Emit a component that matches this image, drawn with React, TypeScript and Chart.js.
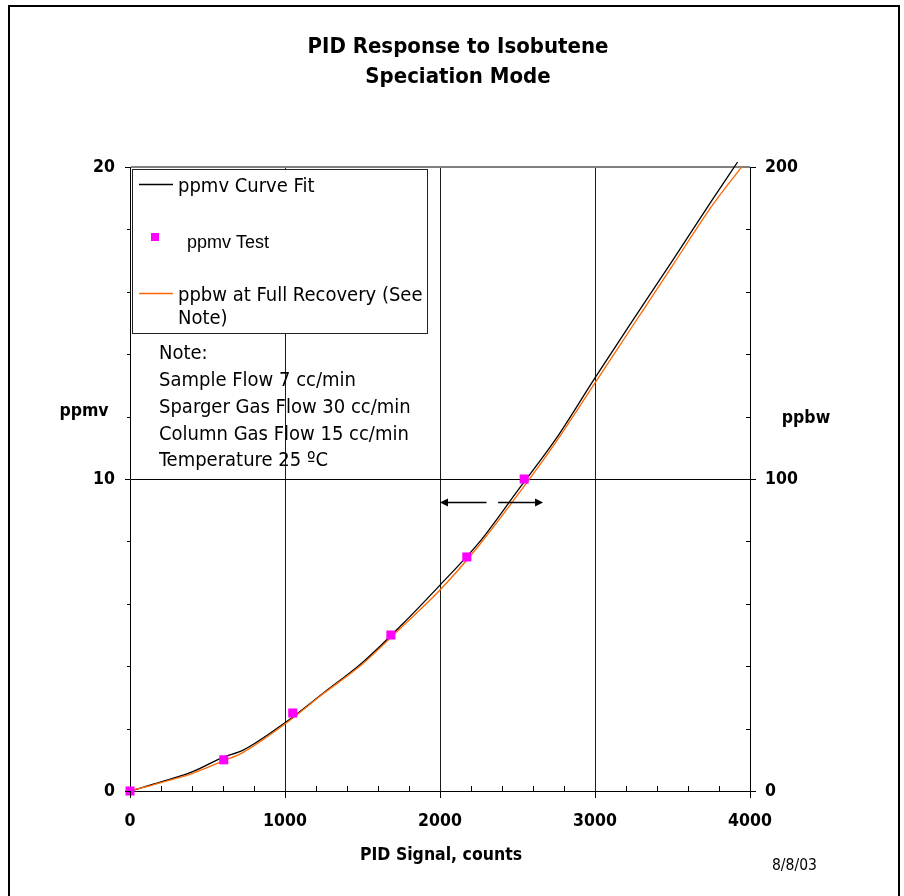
import React, { useEffect, useRef } from "react";
import { Chart, registerables } from "chart.js";

Chart.register(...registerables);

// ---------- data ----------
const titleLines = ["PID Response to Isobutene", "Speciation Mode"];
const xAxisTitle = "PID Signal, counts";
const yAxisTitle = "ppmv";
const y2AxisTitle = "ppbw";
const dateText = "8/8/03";

const xTickLabels = [0, 1000, 2000, 3000, 4000];
const yTickLabels = [0, 10, 20];
const y2TickLabels = [0, 100, 200];

// ppmv curve fit (black)
const curveX = [0, 200, 400, 600, 730, 1000, 1250, 1500, 1750, 2000, 2250, 2500, 2750, 3000, 3250, 3500, 3750, 3920];
const curvePpmv = [0, 0.29, 0.61, 1.08, 1.31, 2.19, 3.15, 4.12, 5.31, 6.6, 7.95, 9.62, 11.3, 13.24, 15.13, 17.0, 18.9, 20.16];

// ppmv test points (magenta squares)
const testX = [0, 605, 1050, 1683, 2173, 2543];
const testPpmv = [0, 1, 2.5, 5, 7.5, 10];

// ppbw at full recovery (orange, right axis)
const ppbwX = [0, 200, 400, 600, 730, 1000, 1250, 1500, 1750, 2000, 2250, 2500, 2750, 3000, 3250, 3500, 3750, 3950];
const ppbwVals = [0, 2.7, 5.6, 9.6, 12.4, 21.5, 31.3, 40.7, 52.4, 64.4, 78.6, 94.8, 112.0, 130.8, 149.6, 168.4, 187.2, 200.3];

const legendLabels = ["ppmv Curve Fit", "ppmv Test", "ppbw at Full Recovery (See", "Note)"];
const noteLines = ["Note:", "Sample Flow 7 cc/min", "Sparger Gas Flow 30 cc/min", "Column Gas Flow 15 cc/min", "Temperature 25 ºC"];

// double arrow annotation (x in counts, y in ppmv)
const arrowY = 9.26;
const arrowLeft = [2300, 2000]; // from, to (head)
const arrowRight = [2375, 2665];

// ---------- styles ----------
const COND = '"DejaVu Sans Condensed", "DejaVu Sans", sans-serif';
const BLACK = "#000000";
const ORANGE = "#FF6600";
const MAGENTA = "#FF00FF";

function drawArrow(ctx: CanvasRenderingContext2D, x0: number, x1: number, y: number) {
  const dir = x1 > x0 ? 1 : -1;
  const head = 8;
  ctx.beginPath();
  ctx.moveTo(x0, y);
  ctx.lineTo(x1 - dir * head * 0.6, y);
  ctx.lineWidth = 1.6;
  ctx.strokeStyle = BLACK;
  ctx.stroke();
  ctx.beginPath();
  ctx.moveTo(x1, y);
  ctx.lineTo(x1 - dir * head, y - 4);
  ctx.lineTo(x1 - dir * head, y + 4);
  ctx.closePath();
  ctx.fillStyle = BLACK;
  ctx.fill();
}

const overlayPlugin = {
  id: "overlay",
  afterDraw(chart: any) {
    const { ctx, scales } = chart;
    const xs = scales.x;
    const ys = scales.y;
    const y2s = scales.y2;
    const area = chart.chartArea;
    ctx.save();

    // tick marks
    ctx.strokeStyle = BLACK;
    ctx.lineWidth = 1;
    for (let v = 0; v <= 4000; v += 200) {
      const px = Math.round(xs.getPixelForValue(v)) + 0.5;
      ctx.beginPath();
      if (v % 1000 === 0) {
        ctx.moveTo(px, area.bottom);
        ctx.lineTo(px, area.bottom + 7);
      } else {
        ctx.moveTo(px, area.bottom);
        ctx.lineTo(px, area.bottom - 5);
      }
      ctx.stroke();
    }
    for (let v = 0; v <= 20; v += 2) {
      const py = Math.round(ys.getPixelForValue(v)) + 0.5;
      ctx.beginPath();
      if (v % 10 === 0) {
        ctx.moveTo(area.left, py);
        ctx.lineTo(area.left - 5, py);
      } else {
        ctx.moveTo(area.left, py);
        ctx.lineTo(area.left - 3, py);
      }
      ctx.stroke();
    }
    for (let v = 0; v <= 200; v += 20) {
      const py = Math.round(y2s.getPixelForValue(v)) + 0.5;
      ctx.beginPath();
      if (v % 100 === 0) {
        ctx.moveTo(area.right, py);
        ctx.lineTo(area.right + 6, py);
      } else {
        ctx.moveTo(area.right, py);
        ctx.lineTo(area.right - 4, py);
      }
      ctx.stroke();
    }

    // arrows
    const ay = Math.round(ys.getPixelForValue(arrowY)) + 0.5;
    drawArrow(ctx, xs.getPixelForValue(arrowLeft[0]), xs.getPixelForValue(arrowLeft[1]), ay);
    drawArrow(ctx, xs.getPixelForValue(arrowRight[0]), xs.getPixelForValue(arrowRight[1]), ay);

    // legend box
    ctx.fillStyle = "#FFFFFF";
    ctx.fillRect(132, 169, 295, 164);
    ctx.strokeStyle = "#222222";
    ctx.lineWidth = 1;
    ctx.strokeRect(132.5, 169.5, 295, 164);
    ctx.textAlign = "left";
    ctx.textBaseline = "alphabetic";
    // curve fit entry
    ctx.strokeStyle = BLACK;
    ctx.lineWidth = 1.3;
    ctx.beginPath();
    ctx.moveTo(139, 184.5);
    ctx.lineTo(173, 184.5);
    ctx.stroke();
    ctx.fillStyle = BLACK;
    ctx.font = `20px ${COND}`;
    ctx.fillText(legendLabels[0], 178, 192);
    // test entry
    ctx.fillStyle = MAGENTA;
    ctx.fillRect(151, 233, 8, 8);
    ctx.fillStyle = BLACK;
    ctx.font = `18px "Liberation Sans", Arial, sans-serif`;
    ctx.fillText(legendLabels[1], 187, 248);
    // ppbw entry
    ctx.strokeStyle = ORANGE;
    ctx.lineWidth = 1.3;
    ctx.beginPath();
    ctx.moveTo(139, 293.5);
    ctx.lineTo(173, 293.5);
    ctx.stroke();
    ctx.fillStyle = BLACK;
    ctx.font = `20px ${COND}`;
    ctx.fillText(legendLabels[2], 178, 301);
    ctx.fillText(legendLabels[3], 178, 324);

    // note
    const noteBase = [359, 386, 413, 440, 466];
    noteLines.forEach((t, i) => ctx.fillText(t, 159, noteBase[i]));

    // title
    ctx.textAlign = "center";
    ctx.font = `bold 22px ${COND}`;
    ctx.fillText(titleLines[0], 458, 53);
    ctx.fillText(titleLines[1], 458, 83);

    // axis titles
    ctx.font = `bold 17.5px ${COND}`;
    ctx.textBaseline = "middle";
    ctx.fillText(xAxisTitle, 441, 855);
    ctx.fillText(yAxisTitle, 84, 411);
    ctx.fillText(y2AxisTitle, 806, 418);

    // date
    ctx.textAlign = "left";
    ctx.textBaseline = "alphabetic";
    ctx.font = `15.5px ${COND}`;
    ctx.fillText(dateText, 772, 870);

    // outer frame
    ctx.strokeStyle = BLACK;
    ctx.lineWidth = 2;
    ctx.strokeRect(9, 6, 890, 900);

    ctx.restore();
  },
};

export default function App() {
  const ref = useRef<HTMLCanvasElement | null>(null);

  useEffect(() => {
    if (!ref.current) return;
    const tickFont = { family: COND, size: 17.5, weight: "bold" as const };
    const chart = new Chart(ref.current, {
      type: "line",
      data: {
        datasets: [
          {
            label: "ppmv Test",
            data: testX.map((x, i) => ({ x, y: testPpmv[i] })),
            showLine: false,
            pointStyle: "rect",
            pointRadius: 6.4,
            pointBackgroundColor: MAGENTA,
            pointBorderColor: MAGENTA,
            pointBorderWidth: 0,
            yAxisID: "y",
            order: 0,
            clip: false,
          },
          {
            label: "ppbw at Full Recovery (See Note)",
            data: ppbwX.map((x, i) => ({ x, y: ppbwVals[i] })),
            borderColor: ORANGE,
            borderWidth: 1.3,
            pointRadius: 0,
            yAxisID: "y2",
            order: 1,
            clip: false,
            cubicInterpolationMode: "monotone",
          },
          {
            label: "ppmv Curve Fit",
            data: curveX.map((x, i) => ({ x, y: curvePpmv[i] })),
            borderColor: BLACK,
            borderWidth: 1.3,
            pointRadius: 0,
            yAxisID: "y",
            order: 2,
            clip: false,
            cubicInterpolationMode: "monotone",
          },
        ],
      },
      options: {
        responsive: false,
        animation: false,
        devicePixelRatio: 1,
        events: [],
        layout: { padding: { top: 167, left: 0, right: 0, bottom: 0 } },
        plugins: {
          legend: { display: false },
          tooltip: { enabled: false },
          title: { display: false },
        },
        scales: {
          x: {
            type: "linear",
            position: "bottom",
            min: 0,
            max: 4000,
            afterFit: (s: any) => {
              s.height = 105;
            },
            afterBuildTicks: (s: any) => {
              s.ticks = xTickLabels.map((v) => ({ value: v }));
            },
            ticks: { color: BLACK, font: tickFont, padding: 20, maxRotation: 0, callback: (v: any) => String(v) },
            grid: {
              drawTicks: false,
              color: (c: any) => (c.tick && c.tick.value > 0 && c.tick.value < 4000 ? "#1a1a1a" : "rgba(0,0,0,0)"),
              lineWidth: 1,
            },
            border: { color: BLACK, width: 1 },
          },
          y: {
            type: "linear",
            position: "left",
            min: 0,
            max: 20,
            afterFit: (s: any) => {
              s.width = 130;
            },
            afterBuildTicks: (s: any) => {
              s.ticks = yTickLabels.map((v) => ({ value: v }));
            },
            ticks: { color: BLACK, font: tickFont, padding: 15, callback: (v: any) => String(v) },
            grid: {
              drawTicks: false,
              color: (c: any) => (c.tick && c.tick.value === 10 ? BLACK : c.tick && c.tick.value === 20 ? "#808080" : "rgba(0,0,0,0)"),
              lineWidth: (c: any) => (c.tick && c.tick.value === 20 ? 2 : 1),
            },
            border: { color: BLACK, width: 1 },
          },
          y2: {
            type: "linear",
            position: "right",
            min: 0,
            max: 200,
            afterFit: (s: any) => {
              s.width = 154;
            },
            afterBuildTicks: (s: any) => {
              s.ticks = y2TickLabels.map((v) => ({ value: v }));
            },
            ticks: { color: BLACK, font: tickFont, padding: 15, callback: (v: any) => String(v) },
            grid: { display: false, drawTicks: false },
            border: { color: BLACK, width: 1 },
          },
        },
      } as any,
      plugins: [overlayPlugin],
    });
    return () => chart.destroy();
  }, []);

  return (
    <canvas
      ref={ref}
      width={904}
      height={896}
      style={{ position: "absolute", left: 0, top: 0, width: 904, height: 896, background: "#fff" }}
    />
  );
}
